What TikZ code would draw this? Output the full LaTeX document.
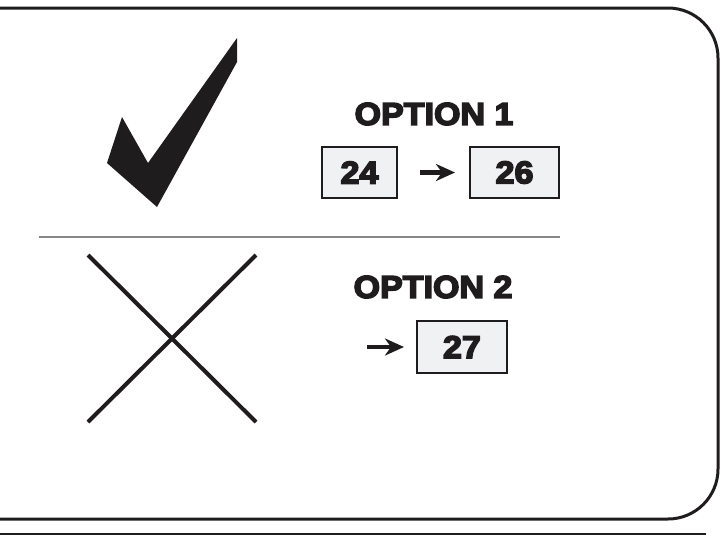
\documentclass[tikz,border=0pt]{standalone}
\usepackage{fontspec}
\usetikzlibrary{positioning}
\usetikzlibrary{arrows.meta}
\newfontfamily\heavyfont{Liberation Sans}[UprightFont={* Bold}, FakeBold=5, FakeStretch=1.08]
\definecolor{boxgray}{RGB}{240,241,243}
\definecolor{inkblack}{RGB}{30,28,29}
\definecolor{rulegray}{RGB}{135,135,135}

\begin{document}
\begin{tikzpicture}[x=1pt, y=-1pt, every node/.style={font=\heavyfont\fontsize{31.5}{31.5}\selectfont, text=inkblack},
    numbox/.style={draw=inkblack, line width=2pt, fill=boxgray, minimum height=51pt, inner sep=0pt},
    pointer/.style={-{Stealth[length=19pt, width=17pt, inset=6pt]}, line width=4.5pt, draw=inkblack}]
    \useasboundingbox (0,0) rectangle (728,536);

    % frame
    \draw[line width=3pt, inkblack, rounded corners=50pt] (-5,8) -- (718,8) -- (718,519) -- (-5,519);
    \draw[line width=2pt, inkblack] (-5,534) -- (706,534);
    \draw[line width=2pt, rulegray] (39,237) -- (560,237);

    % tick
    \fill[inkblack] (237,38) -- (237,62) -- (157,207) -- (107,163) -- (122,117) -- (148,163) -- cycle;

    % cross
    \draw[line width=4pt, inkblack] (88,255) -- (256,422);
    \draw[line width=4pt, inkblack] (88,422) -- (256,255);

    % option 1
    \node (opt1) at (434,114) {OPTION 1};
    \node[numbox, minimum width=75pt] (b24) at (359.5,172.5) {24};
    \node[numbox, minimum width=89pt] (b26) at (514.5,172.5) {26};
    \draw[pointer, shorten <=22pt, shorten >=14pt] (b24) -- (b26);

    % option 2
    \node (opt2) at (433,287) {OPTION 2};
    \node[numbox, minimum width=90pt, minimum height=52pt] (b27) at (462,347) {27};
    \coordinate (p2) at (367,347);
    \draw[pointer, shorten >=12pt] (p2) -- (b27);
\end{tikzpicture}
\end{document}
